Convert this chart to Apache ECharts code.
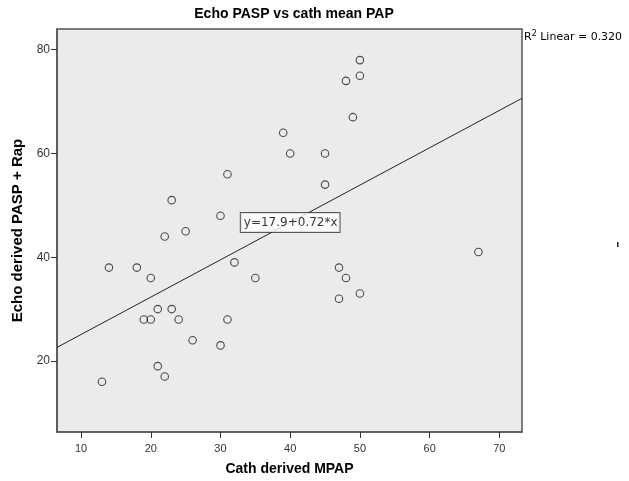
<!DOCTYPE html>
<html>
<head>
<meta charset="utf-8">
<script src="https://cdn.jsdelivr.net/npm/echarts@6/dist/echarts.min.js"></script>
<style>html,body{margin:0;padding:0;background:#fff}#c{width:629px;height:481px}</style>
</head>
<body>
<div id="c"></div>
<script>
const cathMPAP = [50,50,48,49,39,40,45,31,45,23,30,25,22,67,14,18,32,47,20,35,48,50,47,21,23,19,20,24,31,26,30,21,22,13];
const echoPASP = [78,75,74,67,64,60,60,56,54,51,48,45,44,41,38,38,39,38,36,36,36,33,32,30,30,28,28,28,28,24,23,19,17,16];
const fitIntercept = [17.9];
const fitSlope = [0.72];
const xTicks = [10,20,30,40,50,60,70];
const yTicks = [20,40,60,80];
const xRange = [6.55, 73.25];
const yRange = [6.3, 84.0];
const labelX = [40];
const r2Text = ['0.320'];

const a = fitIntercept[0], b = fitSlope[0];
const fitLine = [[xRange[0], a + b*xRange[0]], [xRange[1], a + b*xRange[1]]];
const pts = cathMPAP.map((x,i)=>[x, echoPASP[i]]);
const font = '"Liberation Sans", Arial, sans-serif';
const dvs = '"DejaVu Sans", sans-serif';

const chart = echarts.init(document.getElementById('c'), null, {renderer:'canvas'});
chart.setOption({
  animation: false,
  backgroundColor: '#fff',
  title: {
    text: 'Echo PASP vs cath mean PAP',
    left: 289, top: 2, textAlign: 'center',
    textStyle: {fontFamily: font, fontSize: 14, fontWeight: 'bold', color: '#000'}
  },
  grid: {left: 57, right: 107, top: 29, bottom: 45, show: true, backgroundColor: '#ebebeb', borderColor: '#555', borderWidth: 1.5},
  xAxis: {
    type: 'value', min: xRange[0], max: xRange[1],
    name: 'Cath derived MPAP', nameLocation: 'middle', nameGap: 30,
    nameTextStyle: {fontFamily: font, fontSize: 14, fontWeight: 'bold', color: '#000'},
    axisLine: {show: true, lineStyle: {color: '#555', width: 1.5}},
    axisTick: {show: true, customValues: xTicks, length: 6, lineStyle: {color: '#333'}},
    axisLabel: {customValues: xTicks, fontFamily: font, fontSize: 11, color: '#333', margin: 11},
    splitLine: {show: false}
  },
  yAxis: {
    type: 'value', min: yRange[0], max: yRange[1],
    name: 'Echo derived PASP + Rap', nameLocation: 'middle', nameGap: 29, nameRotate: 90,
    nameTextStyle: {fontFamily: font, fontSize: 15, fontWeight: 'bold', color: '#000'},
    axisLine: {show: true, lineStyle: {color: '#555', width: 1.5}},
    axisTick: {show: true, customValues: yTicks, length: 6, lineStyle: {color: '#333'}},
    axisLabel: {customValues: yTicks, fontFamily: font, fontSize: 12, color: '#333', margin: 7},
    splitLine: {show: false}
  },
  series: [
    {
      type: 'line', data: fitLine, symbol: 'none',
      lineStyle: {color: '#222', width: 1}, z: 2, silent: true
    },
    {
      type: 'scatter', data: pts, symbol: 'circle', symbolSize: 7.5,
      itemStyle: {color: 'transparent', borderColor: '#222', borderWidth: 1.1}, z: 3
    },
    {
      type: 'scatter', data: [[labelX[0], a + b*labelX[0]]], symbolSize: 0, z: 5,
      label: {
        show: true, position: 'inside', formatter: 'y=' + a + '+' + b + '*x',
        fontFamily: dvs, fontSize: 12, color: '#000',
        backgroundColor: '#fff', borderColor: '#333', borderWidth: 1,
        padding: [4, 2, 3, 3]
      }
    }
  ],
  graphic: [
    {
      type: 'text', left: 524, top: 30,
      style: {
        text: '{n|R}{s|2}{n| Linear = ' + r2Text[0] + '}',
        rich: {
          n: {fontFamily: dvs, fontSize: 11, fill: '#000', verticalAlign: 'bottom'},
          s: {fontFamily: dvs, fontSize: 8, fill: '#000', verticalAlign: 'top', padding: [0,0,5,0]}
        }
      }
    },
    {type: 'rect', shape: {x: 617, y: 242, width: 1.5, height: 5}, style: {fill: '#222'}}
  ]
});
</script>
</body>
</html>
